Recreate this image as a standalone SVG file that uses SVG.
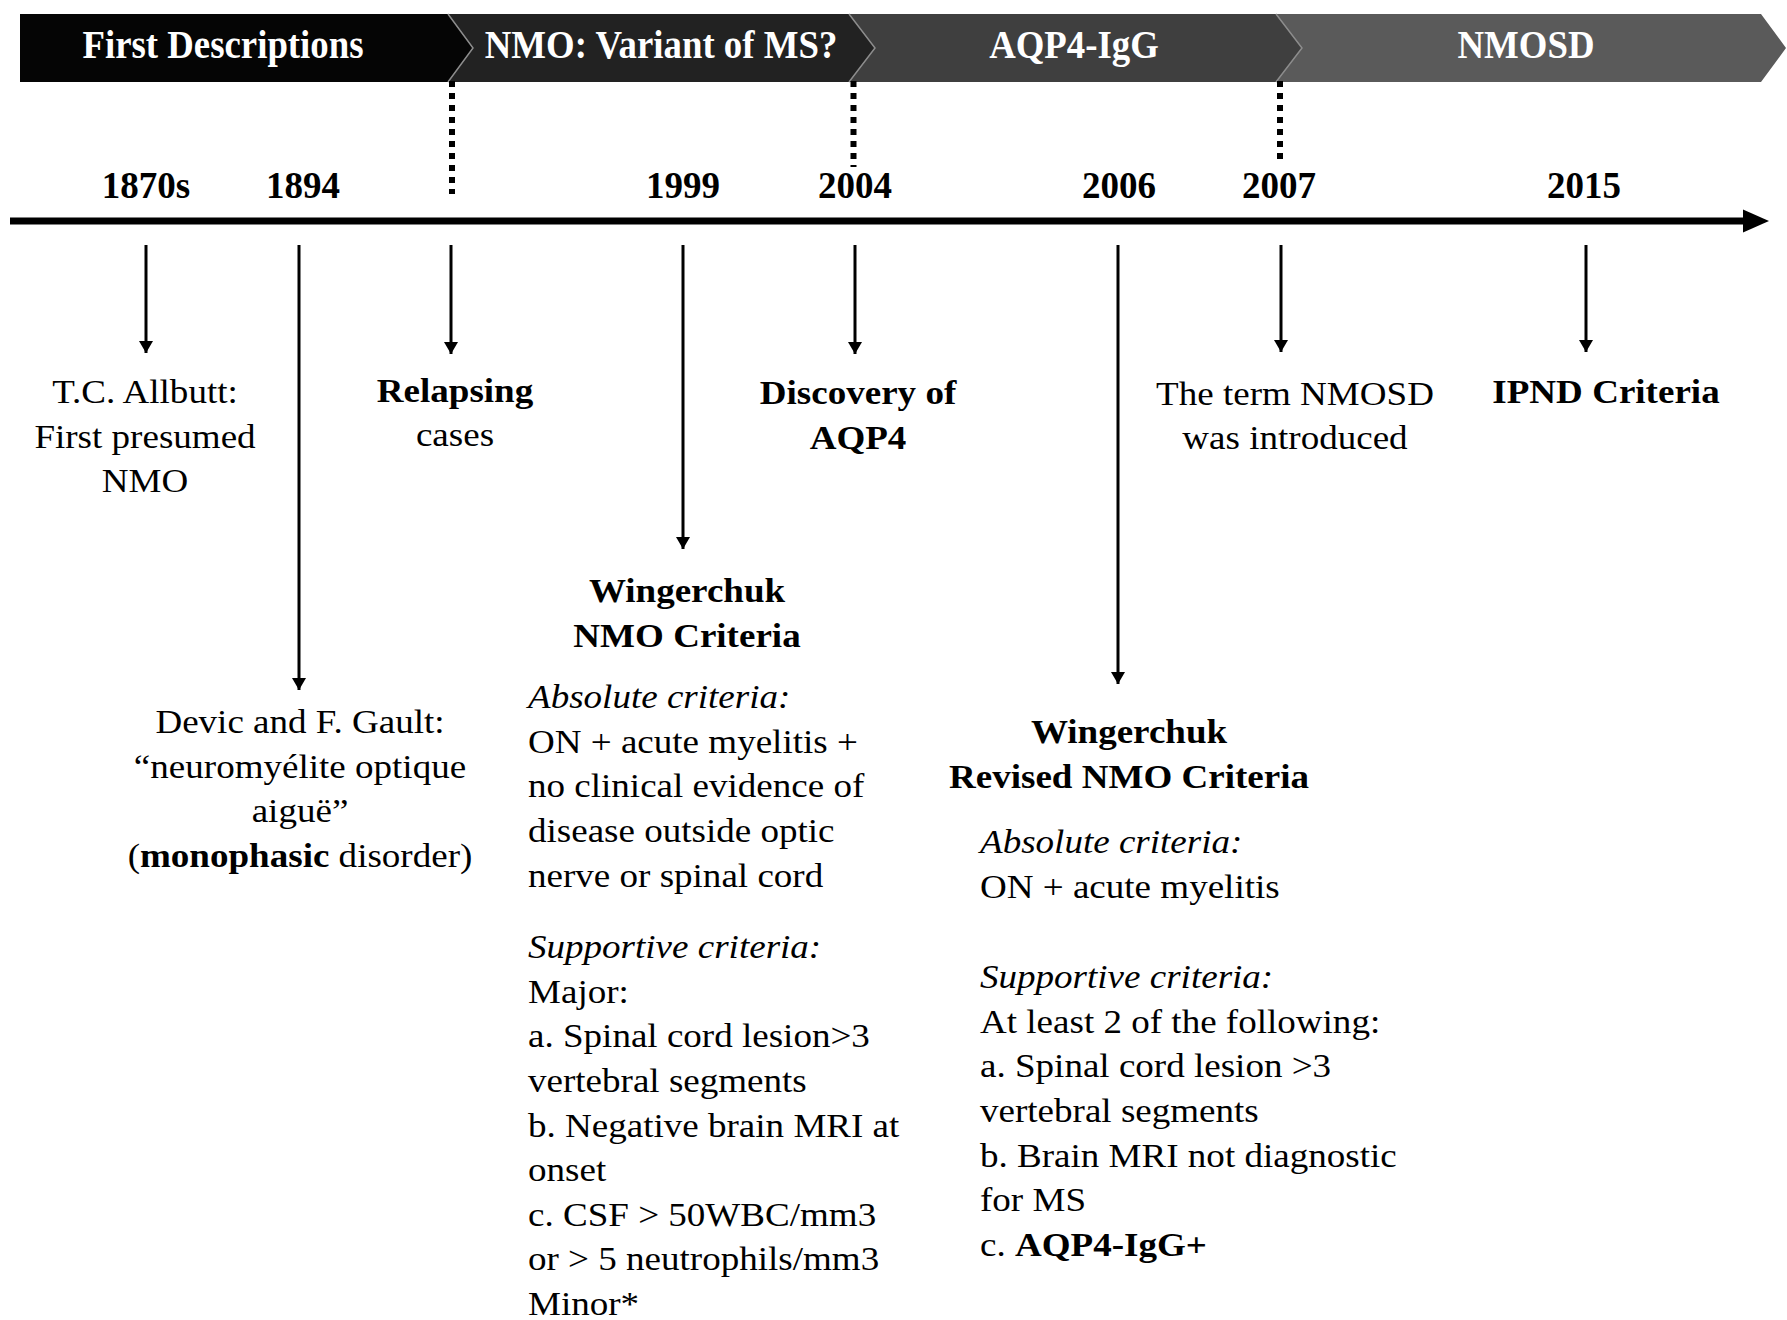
<svg xmlns="http://www.w3.org/2000/svg" width="1787" height="1320" viewBox="0 0 1787 1320">
<style>
text{font-family:"Liberation Serif","Times New Roman",serif;fill:#000}
.t{font-size:34px}
.m{text-anchor:middle}
.b{font-weight:bold}
.i{font-style:italic}
.yr{font-size:37px;font-weight:bold;text-anchor:middle}
.ban{font-size:40px;font-weight:bold;fill:#fff;text-anchor:middle}
.sep{fill:none;stroke:#8c8c8c;stroke-width:1.5}
.ev{fill:none;stroke:#000;stroke-width:3;marker-end:url(#ah)}
.dot{fill:none;stroke:#000;stroke-width:6;stroke-dasharray:6 6}
</style>
<defs>
<marker id="ah" markerUnits="userSpaceOnUse" viewBox="0 0 12 14" markerWidth="12" markerHeight="14" refX="12" refY="7" orient="auto">
<path d="M0,0 L12,7 L0,14 Z" fill="#000"/>
</marker>
</defs>
<rect width="1787" height="1320" fill="#fff"/>

<g id="banner">
<g id="phase-first">
<polygon points="20,14 448,14 473,48 448,82 20,82" fill="#050505"/>
<text class="ban" transform="translate(223,58) scale(0.92,1)">First Descriptions</text>
</g>
<g id="phase-variant">
<polygon points="448,14 849,14 875,48 849,82 448,82 473,48" fill="#222"/>
<polyline class="sep" points="448,14 473,48 448,82"/>
<text class="ban" transform="translate(661,58) scale(0.92,1)">NMO: Variant of MS?</text>
</g>
<g id="phase-aqp4">
<polygon points="849,14 1276,14 1302,48 1276,82 849,82 875,48" fill="#3f3f3f"/>
<polyline class="sep" points="849,14 875,48 849,82"/>
<text class="ban" transform="translate(1074,58) scale(0.92,1)">AQP4-IgG</text>
</g>
<g id="phase-nmosd">
<polygon points="1276,14 1761,14 1786,48 1761,82 1276,82 1302,48" fill="#5a5a5a"/>
<polyline class="sep" points="1276,14 1302,48 1276,82"/>
<text class="ban" transform="translate(1526,58) scale(0.92,1)">NMOSD</text>
</g>
</g>

<g id="connectors">
<line x1="10" y1="221" x2="1748" y2="221" stroke="#000" stroke-width="7"/>
<polygon points="1743,209.5 1769,221 1743,232.5" fill="#000"/>
<line class="dot" x1="452" y1="81" x2="452" y2="194"/>
<line class="dot" x1="853.5" y1="81" x2="853.5" y2="167"/>
<line class="dot" x1="1280" y1="81" x2="1280" y2="163"/>
<line class="ev" x1="146" y1="245" x2="146" y2="353"/>
<line class="ev" x1="299" y1="245" x2="299" y2="690"/>
<line class="ev" x1="451" y1="245" x2="451" y2="354"/>
<line class="ev" x1="683" y1="245" x2="683" y2="549"/>
<line class="ev" x1="855" y1="245" x2="855" y2="354"/>
<line class="ev" x1="1118" y1="245" x2="1118" y2="684"/>
<line class="ev" x1="1281" y1="245" x2="1281" y2="352"/>
<line class="ev" x1="1586" y1="245" x2="1586" y2="352"/>
</g>

<g id="ev-1870s">
<text class="yr" x="146" y="198">1870s</text>
<g transform="translate(145,0) scale(1.09,1)">
<text class="t m" x="0" y="403">T.C. Allbutt:</text>
<text class="t m" x="0" y="448">First presumed</text>
<text class="t m" x="0" y="492">NMO</text>
</g>
</g>

<g id="ev-1894">
<text class="yr" x="303" y="198">1894</text>
<g transform="translate(300,0) scale(1.09,1)">
<text class="t m" x="0" y="733">Devic and F. Gault:</text>
<text class="t m" x="0" y="778">“neuromyélite optique</text>
<text class="t m" x="0" y="822">aiguë”</text>
<text class="t m" x="0" y="867">(<tspan class="b">monophasic</tspan> disorder)</text>
</g>
</g>

<g id="ev-relapsing">
<g transform="translate(455,0) scale(1.09,1)">
<text class="t m b" x="0" y="402">Relapsing</text>
<text class="t m" x="0" y="446">cases</text>
</g>
</g>

<g id="ev-1999">
<text class="yr" x="683" y="198">1999</text>
<g transform="translate(687,0) scale(1.09,1)">
<text class="t m b" x="0" y="602">Wingerchuk</text>
<text class="t m b" x="0" y="647">NMO Criteria</text>
</g>
<g transform="translate(528,0) scale(1.09,1)">
<text class="t i" x="0" y="708">Absolute criteria:</text>
<text class="t" x="0" y="753">ON + acute myelitis +</text>
<text class="t" x="0" y="797">no clinical evidence of</text>
<text class="t" x="0" y="842">disease outside optic</text>
<text class="t" x="0" y="887">nerve or spinal cord</text>
<text class="t i" x="0" y="958">Supportive criteria:</text>
<text class="t" x="0" y="1003">Major:</text>
<text class="t" x="0" y="1047">a. Spinal cord lesion&gt;3</text>
<text class="t" x="0" y="1092">vertebral segments</text>
<text class="t" x="0" y="1137">b. Negative brain MRI at</text>
<text class="t" x="0" y="1181">onset</text>
<text class="t" x="0" y="1226">c. CSF &gt; 50WBC/mm3</text>
<text class="t" x="0" y="1270">or &gt; 5 neutrophils/mm3</text>
<text class="t" x="0" y="1315">Minor*</text>
</g>
</g>

<g id="ev-2004">
<text class="yr" x="855" y="198">2004</text>
<g transform="translate(858,0) scale(1.09,1)">
<text class="t m b" x="0" y="404">Discovery of</text>
<text class="t m b" x="0" y="449">AQP4</text>
</g>
</g>

<g id="ev-2006">
<text class="yr" x="1119" y="198">2006</text>
<g transform="translate(1129,0) scale(1.09,1)">
<text class="t m b" x="0" y="743">Wingerchuk</text>
<text class="t m b" x="0" y="788">Revised NMO Criteria</text>
</g>
<g transform="translate(980,0) scale(1.09,1)">
<text class="t i" x="0" y="853">Absolute criteria:</text>
<text class="t" x="0" y="898">ON + acute myelitis</text>
<text class="t i" x="0" y="988">Supportive criteria:</text>
<text class="t" x="0" y="1033">At least 2 of the following:</text>
<text class="t" x="0" y="1077">a. Spinal cord lesion &gt;3</text>
<text class="t" x="0" y="1122">vertebral segments</text>
<text class="t" x="0" y="1167">b. Brain MRI not diagnostic</text>
<text class="t" x="0" y="1211">for MS</text>
<text class="t" x="0" y="1256">c. <tspan class="b">AQP4-IgG+</tspan></text>
</g>
</g>

<g id="ev-2007">
<text class="yr" x="1279" y="198">2007</text>
<g transform="translate(1295,0) scale(1.09,1)">
<text class="t m" x="0" y="405">The term NMOSD</text>
<text class="t m" x="0" y="449">was introduced</text>
</g>
</g>

<g id="ev-2015">
<text class="yr" x="1584" y="198">2015</text>
<g transform="translate(1606,0) scale(1.09,1)">
<text class="t m b" x="0" y="403">IPND Criteria</text>
</g>
</g>
</svg>
